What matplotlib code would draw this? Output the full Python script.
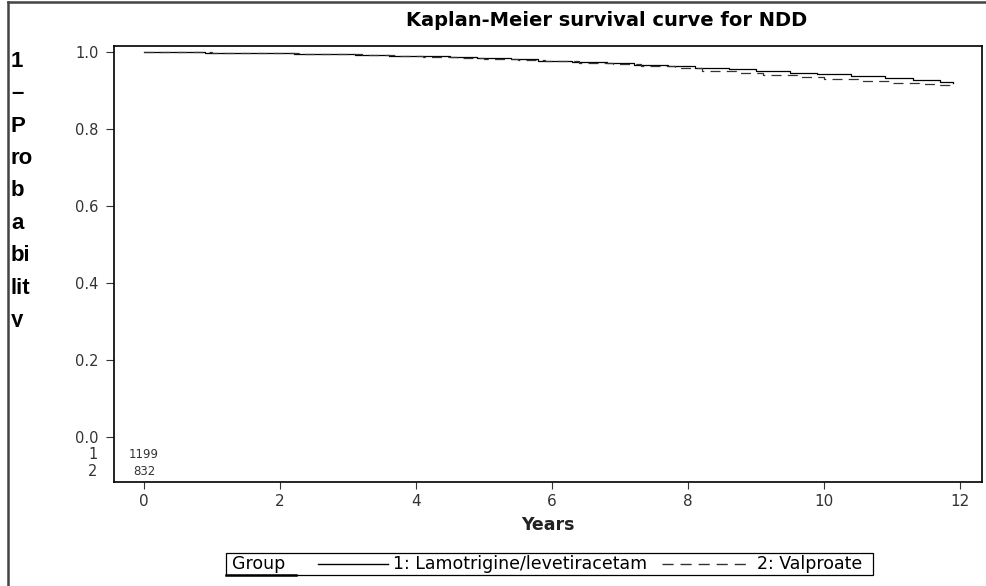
import matplotlib
matplotlib.use("Agg")
import matplotlib.pyplot as plt
from matplotlib.lines import Line2D
from matplotlib.patches import Rectangle
from matplotlib.transforms import Bbox, TransformedBbox, blended_transform_factory

plt.rcParams["font.family"] = ["DejaVu Sans"]

# Kaplan-Meier step estimates (years, survival) per treatment group
t_lam = [0, 0.4, 0.9, 1.3, 1.8, 2.2, 2.7, 3.1, 3.6, 4.0, 4.5, 4.9, 5.4, 5.8,
         6.3, 6.8, 7.2, 7.7, 8.1, 8.6, 9.0, 9.5, 9.9, 10.4, 10.9, 11.3, 11.7, 11.9]
s_lam = [1.000, 0.999, 0.998, 0.997, 0.996, 0.995, 0.993, 0.992, 0.990, 0.988,
         0.986, 0.983, 0.980, 0.977, 0.974, 0.971, 0.967, 0.963, 0.959, 0.955,
         0.951, 0.946, 0.942, 0.937, 0.933, 0.928, 0.922, 0.918]
t_val = [0, 0.5, 1.0, 1.4, 1.9, 2.3, 2.8, 3.2, 3.7, 4.1, 4.6, 5.0, 5.5, 5.9,
         6.4, 6.9, 7.3, 7.8, 8.2, 8.7, 9.1, 9.6, 10.0, 10.5, 11.0, 11.4, 11.7, 11.9]
s_val = [1.000, 0.999, 0.998, 0.997, 0.996, 0.995, 0.993, 0.991, 0.989, 0.987,
         0.985, 0.982, 0.979, 0.975, 0.972, 0.968, 0.963, 0.957, 0.951, 0.946,
         0.940, 0.935, 0.930, 0.925, 0.920, 0.916, 0.913, 0.912]

groups = ["1", "2"]
at_risk = ["1199", "832"]
at_risk_y = [-0.044, -0.090]
legend_labels = ["1: Lamotrigine/levetiracetam", "2: Valproate"]

W, H = 987, 586
fig = plt.figure(figsize=(W / 100, H / 100), dpi=100)


def fx(px):
    return px / W


def fy(py):
    return 1 - py / H


ax = fig.add_axes([fx(114), fy(482), fx(982) - fx(114), fy(46) - fy(482)])
ax.step(t_lam, s_lam, where="post", color="black", lw=0.9)
ax.step(t_val, s_val, where="post", color="#333333", lw=0.9, dashes=(8, 5))

ax.set_xlim(-0.44, 12.32)
ax.set_ylim(-0.116, 1.015)
ax.set_xticks(range(0, 13, 2))
ax.set_yticks([0.0, 0.2, 0.4, 0.6, 0.8, 1.0])
ax.set_yticklabels(["0.0", "0.2", "0.4", "0.6", "0.8", "1.0"])
ax.tick_params(axis="y", direction="out", length=6, width=0.8, pad=5,
               labelsize=10.5, colors="#333333")
ax.tick_params(axis="x", direction="out", length=5, width=0.8, pad=4,
               labelsize=11, colors="#333333")
for sp in ax.spines.values():
    sp.set_linewidth(1.2)
ax.set_xlabel("Years", fontsize=12.5, fontweight="bold", color="#222222", labelpad=5)

# numbers at risk
row_tr = blended_transform_factory(ax.transAxes, ax.transData)
for g, n, y in zip(groups, at_risk, at_risk_y):
    ax.text(0, y, n, ha="center", va="center", fontsize=8.5, color="#333333")
    ax.text(-0.019, y, g, ha="right", va="center", fontsize=10.5, color="#333333",
            transform=row_tr, clip_on=False)

fig.text(fx(607), fy(21), "Kaplan-Meier survival curve for NDD", ha="center",
         va="center", fontsize=14, fontweight="bold")

# y-axis title wrapped letter by letter, cut at the bottom
ylab = fig.text(fx(11), fy(51), "1\n–\nP\nro\nb\na\nbi\nlit\ny", ha="left", va="top",
                fontsize=16, linespacing=1.71, color="black", fontweight="bold",
                family=["Liberation Sans", "DejaVu Sans"])
ylab.set_clip_on(True)
ylab.set_clip_box(TransformedBbox(Bbox([[0, fy(327)], [fx(110), 1]]), fig.transFigure))

# outer frame (left and top edges)
fig.add_artist(Line2D([fx(8), fx(8)], [0, fy(2)], transform=fig.transFigure,
                      color="#444444", lw=1.8))
fig.add_artist(Line2D([fx(8), 1], [fy(2), fy(2)], transform=fig.transFigure,
                      color="#444444", lw=1.8))

# legend
fig.add_artist(Rectangle((fx(226), fy(575)), fx(873) - fx(226), fy(553) - fy(575),
                         transform=fig.transFigure, fill=False, ec="black", lw=0.9))
fig.add_artist(Line2D([fx(226), fx(296)], [fy(575), fy(575)], transform=fig.transFigure,
                      color="black", lw=1.8))
fig.text(fx(232), fy(564), "Group", ha="left", va="center", fontsize=12.5)
fig.add_artist(Line2D([fx(318), fx(388)], [fy(564), fy(564)], transform=fig.transFigure,
                      color="black", lw=1.0))
fig.text(fx(393), fy(564), legend_labels[0], ha="left", va="center", fontsize=12.5)
fig.add_artist(Line2D([fx(662), fx(752)], [fy(564), fy(564)], transform=fig.transFigure,
                      color="#333333", lw=1.0, dashes=(8, 5)))
fig.text(fx(757), fy(564), legend_labels[1], ha="left", va="center", fontsize=12.5)

fig.savefig("out.png", dpi=100)
